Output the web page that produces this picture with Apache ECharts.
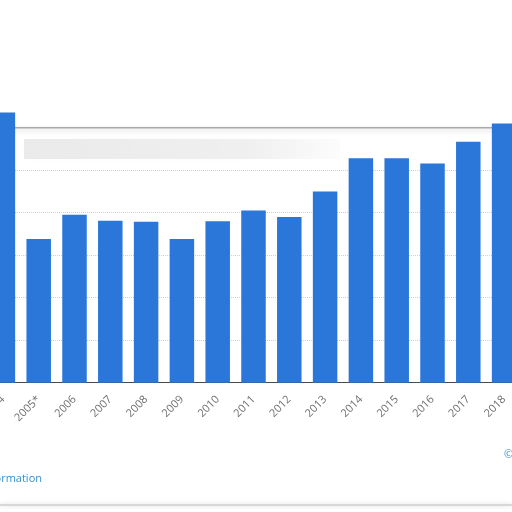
<!DOCTYPE html>
<html lang="en">
<head>
    <meta charset="UTF-8">
    <title>Bar chart</title>
    <style>
        html, body { margin: 0; padding: 0; background: #fff; overflow: hidden; }
        /* the plot is wider than the window: first and last bars are cut at the edges */
        #chart { position: absolute; left: -15px; top: 0; width: 537px; height: 512px; }
    </style>
</head>
<body>
<div id="chart"></div>

<script type="text/javascript" src="https://cdn.jsdelivr.net/npm/echarts@6/dist/echarts.min.js"></script>
<script>
    var years = ['2004', '2005*', '2006', '2007', '2008', '2009', '2010', '2011',
        '2012', '2013', '2014', '2015', '2016', '2017', '2018'];
    var values = [63.6, 33.8, 39.5, 38.1, 37.9, 33.8, 38.0, 40.5,
        39.0, 45.0, 52.8, 52.8, 51.6, 56.7, 61.0];
    var yMax = 60;
    var yStep = 10;

    var myChart = echarts.init(document.getElementById('chart'));
    var dx = 15; // offset of the div

    // grid lines: baseline hidden under axis, top one drawn separately
    var gridColors = ['transparent', '#cfcfcf', '#cfcfcf', '#cfcfcf', '#cfcfcf', '#cfcfcf', 'transparent'];

    var option = {
        backgroundColor: '#fff',
        animation: false,
        grid: {
            left: 0,
            right: 0,
            top: 127.7,
            bottom: 129.3,
            containLabel: false,
            outerBoundsMode: 'none'
        },
        xAxis: {
            type: 'category',
            data: years,
            axisLine: { lineStyle: { color: '#4a4a4a', width: 1 } },
            axisTick: { show: false },
            axisLabel: {
                rotate: 45,
                margin: 15,
                color: '#6e6e6e',
                fontSize: 11,
                fontFamily: 'Open Sans'
            }
        },
        yAxis: {
            type: 'value',
            min: 0,
            max: yMax,
            interval: yStep,
            axisLine: { show: false },
            axisTick: { show: false },
            axisLabel: { show: false },
            splitLine: {
                lineStyle: { color: gridColors, type: 'dotted', width: 1 }
            }
        },
        graphic: [
            {
                // blurred grey band under the top line
                type: 'rect',
                z: 0,
                shape: { x: dx + 24, y: 139, width: 316, height: 20 },
                style: {
                    fill: new echarts.graphic.LinearGradient(0, 0, 1, 0, [
                        { offset: 0, color: 'rgba(0,0,0,0.08)' },
                        { offset: 0.7, color: 'rgba(0,0,0,0.06)' },
                        { offset: 1, color: 'rgba(0,0,0,0.01)' }
                    ]),
                    shadowBlur: 16,
                    shadowColor: 'rgba(0,0,0,0.1)'
                }
            },
            {
                type: 'line',
                z: 1,
                shape: { x1: dx, y1: 127.7, x2: dx + 512, y2: 127.7 },
                style: { stroke: '#a9a9a9', lineWidth: 1.5, shadowBlur: 5, shadowColor: 'rgba(0,0,0,0.2)', shadowOffsetY: 2 }
            },
            {
                type: 'line',
                shape: { x1: dx, y1: 505, x2: dx + 512, y2: 505 },
                style: { stroke: '#cfcfcf', lineWidth: 1.5, shadowBlur: 4, shadowColor: 'rgba(0,0,0,0.2)' }
            },
            {
                type: 'text',
                x: dx + 42,
                y: 473,
                style: {
                    text: 'Additional Information',
                    align: 'right',
                    fill: '#3b8fc8',
                    fontSize: 11,
                    fontFamily: 'Open Sans'
                }
            },
            {
                type: 'text',
                x: dx + 504,
                y: 449,
                style: {
                    text: '© Statista',
                    fill: '#3b8fc8',
                    fontSize: 11,
                    fontFamily: 'Open Sans'
                }
            }
        ],
        series: [
            {
                type: 'bar',
                data: values,
                barWidth: 24.5,
                clip: false,
                z: 2,
                itemStyle: { color: '#2a76d9' }
            }
        ]
    };

    myChart.setOption(option);
</script>
</body>
</html>
